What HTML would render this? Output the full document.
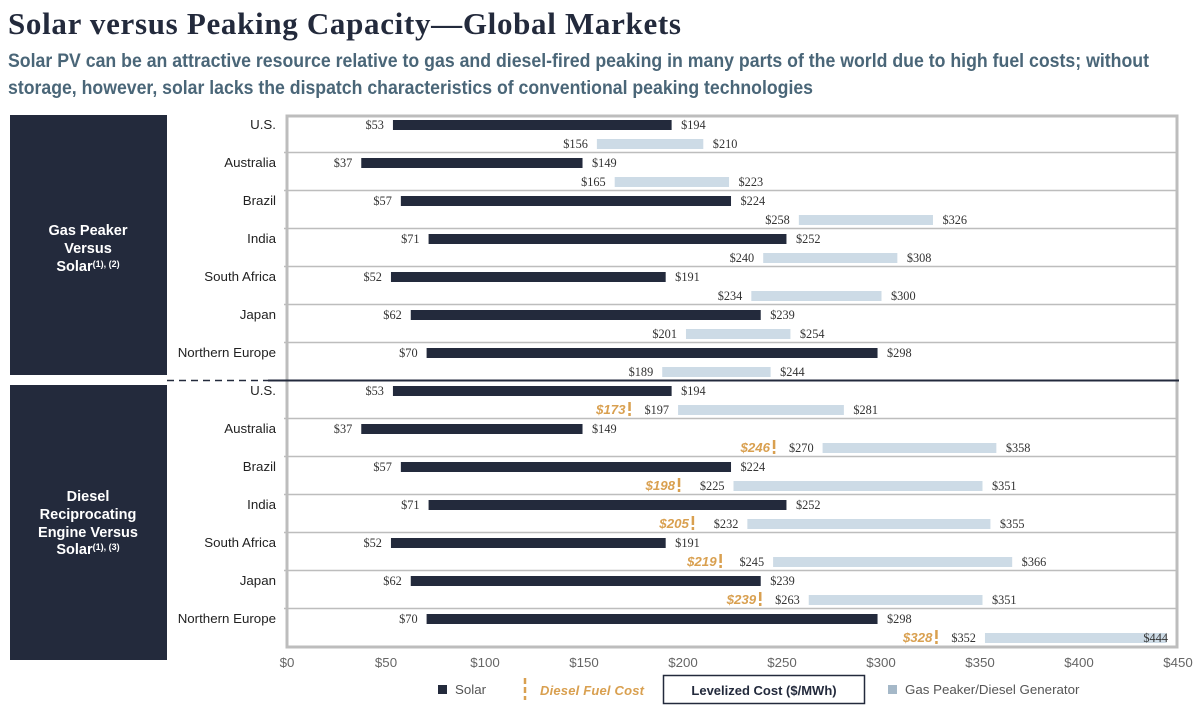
<!DOCTYPE html>
<html lang="en">
<head>
<meta charset="utf-8">
<title>Solar versus Peaking Capacity</title>
<style>
html,body{margin:0;padding:0;background:#fff;width:1200px;height:707px;overflow:hidden}
svg{display:block}
text{font-family:"Liberation Sans",sans-serif}
.serif{font-family:"Liberation Serif",serif}
</style>
</head>
<body>
<svg id="chart" width="1200" height="707" viewBox="0 0 1200 707" xmlns="http://www.w3.org/2000/svg">
  <text class="serif" x="8" y="34" font-size="31" font-weight="bold" fill="#232a3c" textLength="673" lengthAdjust="spacing">Solar versus Peaking Capacity—Global Markets</text>
  <text x="8" y="67" font-size="19.5" font-weight="bold" fill="#4a6678" textLength="1141" lengthAdjust="spacingAndGlyphs">Solar PV can be an attractive resource relative to gas and diesel-fired peaking in many parts of the world due to high fuel costs; without</text>
  <text x="8" y="94" font-size="19.5" font-weight="bold" fill="#4a6678" textLength="805" lengthAdjust="spacingAndGlyphs">storage, however, solar lacks the dispatch characteristics of conventional peaking technologies</text>

  <rect x="10" y="115" width="157" height="260" fill="#232a3c"/>
  <rect x="10" y="385" width="157" height="275" fill="#232a3c"/>
  <g fill="#fff" font-size="14.5" font-weight="bold" text-anchor="middle">
    <text x="88" y="235">Gas Peaker</text>
    <text x="88" y="253">Versus</text>
    <text x="88" y="271">Solar<tspan font-size="9" dy="-4">(1), (2)</tspan></text>
  </g>
  <g fill="#fff" font-size="14.5" font-weight="bold" text-anchor="middle">
    <text x="88" y="501">Diesel</text>
    <text x="88" y="519">Reciprocating</text>
    <text x="88" y="537">Engine Versus</text>
    <text x="88" y="554">Solar<tspan font-size="9" dy="-4">(1), (3)</tspan></text>
  </g>

  <g id="plot"></g>

  <g>
    <rect x="438" y="685" width="9" height="9" fill="#232a3c"/>
    <text x="455" y="694" font-size="13.3" fill="#555">Solar</text>
    <line x1="525" y1="678" x2="525" y2="700" stroke="#d9a050" stroke-width="2.5" stroke-dasharray="6 3"/>
    <text x="540" y="695" font-size="13" font-weight="bold" font-style="italic" fill="#d9a050" textLength="104">Diesel Fuel Cost</text>
    <rect x="663.5" y="675.5" width="201" height="28" fill="#fff" stroke="#232a3c" stroke-width="1.5"/>
    <text x="764" y="695" font-size="13" font-weight="bold" fill="#232a3c" text-anchor="middle">Levelized Cost ($/MWh)</text>
    <rect x="888" y="685" width="9" height="9" fill="#a5b8c8"/>
    <text x="905" y="694" font-size="13.3" fill="#555">Gas Peaker/Diesel Generator</text>
  </g>
</svg>
<script>
const countries = ["U.S.", "Australia", "Brazil", "India", "South Africa", "Japan", "Northern Europe"];
const solarLow = [53, 37, 57, 71, 52, 62, 70];
const solarHigh = [194, 149, 224, 252, 191, 239, 298];
const gasLow = [156, 165, 258, 240, 234, 201, 189];
const gasHigh = [210, 223, 326, 308, 300, 254, 244];
const dieselLow = [197, 270, 225, 232, 245, 263, 352];
const dieselHigh = [281, 358, 351, 355, 366, 351, 444];
const dieselFuel = [173, 246, 198, 205, 219, 239, 328];
const xTicks = [0, 50, 100, 150, 200, 250, 300, 350, 400, 450];

const NS = "http://www.w3.org/2000/svg";
const plot = document.getElementById("plot");
const left = 287, right = 1178, top_ = 115, rowH = 38, groups = 14;
const bottom = top_ + rowH * groups;
const xScale = v => left + v * (right - left) / 450;
const yScale = i => top_ + rowH * i + 10;

function make(tag, attrs, txt) {
  const el = document.createElementNS(NS, tag);
  for (const k in attrs) el.setAttribute(k, attrs[k]);
  if (txt !== undefined) el.textContent = txt;
  plot.appendChild(el);
  return el;
}
function money(v) { return "$" + v; }

// row separators
for (let i = 1; i < groups; i++) {
  if (i === 7) continue;
  const sep = make("line", {x1: left - 3, x2: right, y1: top_ + rowH * i - 0.5, y2: top_ + rowH * i - 0.5, stroke: "#bdbdbd", "stroke-width": 1.6});
  
  
}
// frame
const frame = make("rect", {x: left, y: top_ + 1, width: right - left - 1, height: bottom - top_ - 1, fill: "none", stroke: "#bdbdbd", "stroke-width": 3});



// divider between the two sections
const dash = make("line", {x1: 167, x2: 268, y1: 380.5, y2: 380.5, stroke: "#232a3c", "stroke-width": 1.5, "stroke-dasharray": "7 5"});


const solid = make("line", {x1: 268, x2: right + 1, y1: 380.5, y2: 380.5, stroke: "#232a3c", "stroke-width": 2});



function drawBar(lo, hi, y, fill) {
  const startX = xScale(lo) + 1;
  const bar = make("rect", {x: startX, y: y - 5, width: xScale(hi) - startX + 0.5, height: 10, fill: fill});
  
  
  const loLabel = make("text", {class: "serif", x: xScale(lo) - 8, y: y + 4, "font-size": 12.3, fill: "#333", "text-anchor": "end"}, money(lo));
  
  
  const inside = xScale(hi) + 40 > right;
  const hiLabel = make("text", {class: "serif", x: inside ? right - 10 : xScale(hi) + 10, y: y + 4, "font-size": 12.3, fill: "#333", "text-anchor": inside ? "end" : "start"}, money(hi));
  
  
}

function drawGroup(start, lows, highs, fuel) {
  countries.forEach((c, i) => {
    const y1 = yScale(start + i);
    const y2 = y1 + rowH / 2;
    const cat = make("text", {x: 276, y: y1 + 4, "font-size": 13.3, fill: "#222", "text-anchor": "end"}, c);
    
    
    drawBar(solarLow[i], solarHigh[i], y1, "#232a3c");
    drawBar(lows[i], highs[i], y2, "#cddbe6");
    if (fuel) {
      const fx = xScale(fuel[i]);
      const mark = make("line", {x1: fx, x2: fx, y1: y2 - 8, y2: y2 + 7, stroke: "#d9a050", "stroke-width": 2.5, "stroke-dasharray": "9 2 3"});
      
      
      const fl = make("text", {x: fx - 4, y: y2 + 4, "font-size": 13.3, "font-weight": "bold", "font-style": "italic", fill: "#d9a050", "text-anchor": "end"}, money(fuel[i]));
      
      
    }
  });
}
drawGroup(0, gasLow, gasHigh, null);
drawGroup(7, dieselLow, dieselHigh, dieselFuel);

xTicks.forEach(t => {
  const tick = make("text", {x: xScale(t), y: 667, "font-size": 13.3, fill: "#666", "text-anchor": "middle"}, money(t));
  
  
});
</script>
</body>
</html>
